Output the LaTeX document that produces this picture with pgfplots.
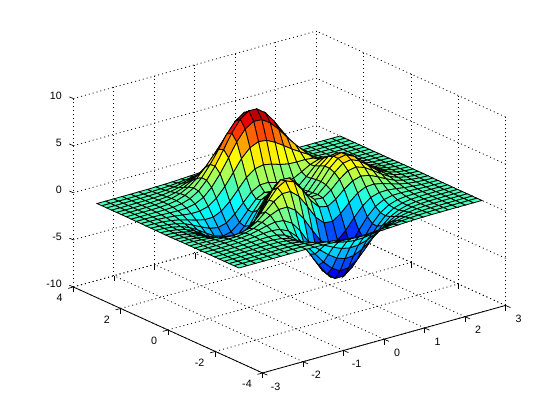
\documentclass[border=0pt]{standalone}
\usepackage{fontspec}
\setmainfont{Liberation Sans}
\usepackage{pgfplots}
\pgfplotsset{compat=1.18}
\pgfplotsset{colormap={matjet}{rgb255=(0,0,128) rgb255=(0,0,255) rgb255=(0,128,255) rgb255=(0,255,255) rgb255=(128,255,128) rgb255=(255,255,0) rgb255=(255,128,0) rgb255=(255,0,0) rgb255=(128,0,0)}}
\begin{document}
\begin{tikzpicture}
\path[use as bounding box] (0,0) rectangle (420pt,315pt);
\begin{axis}[
  at={(217.1pt,163.5pt)}, anchor=origin,
  x={(30.375pt,8.44pt)}, y={(-17.74pt,8.06pt)}, z={(0pt,7.065pt)},
  xmin=-3, xmax=3, ymin=-4, ymax=4, zmin=-10, zmax=10,
  xtick={-3,-2,-1,0,1,2,3}, ytick={-4,-2,0,2,4}, ztick={-10,-5,0,5,10},
  grid=major,
  grid style={black, line width=0.6pt, dash pattern=on 0.75pt off 2.25pt},
  axis line style={draw=none},
  tick style={black, line width=0.5pt},
  tick align=outside, major tick length=4pt, tick pos=lower,
  ztick style={draw=none},
  clip=false,
  /pgf/number format/assume math mode=true,
  tick label style={font=\fontsize{8}{9}\selectfont},
  xticklabel style={anchor=center, xshift=6.15pt, yshift=-8.4pt},
  yticklabel style={anchor=east, xshift=-0.75pt, yshift=-7.2pt},
  zticklabel style={anchor=east, xshift=-1.5pt, yshift=0.75pt},
  colormap name=matjet,
  point meta min=-6.43, point meta max=8.02,
]
\addplot3[surf, shader=flat corner, draw=black, line width=0.6pt, z buffer=sort, mesh/rows=30, point meta=z]
 table[row sep=\\, header=false, x index=0, y index=1, z index=2] {
-3 -3 0\\-2.79 -3 0\\-2.59 -3 0\\-2.38 -3 0\\-2.17 -3 0\\-1.97 -3 0\\-1.76 -3 0.01\\-1.55 -3 0\\-1.34 -3 0\\-1.14 -3 -0.01\\-0.93 -3 -0.04\\-0.72 -3 -0.08\\-0.52 -3 -0.13\\-0.31 -3 -0.19\\-0.10 -3 -0.23\\0.10 -3 -0.25\\0.31 -3 -0.25\\0.52 -3 -0.22\\0.72 -3 -0.18\\0.93 -3 -0.13\\1.14 -3 -0.08\\1.34 -3 -0.05\\1.55 -3 -0.03\\1.76 -3 -0.01\\1.97 -3 -0.01\\2.17 -3 0\\2.38 -3 0\\2.59 -3 0\\2.79 -3 0\\3 -3 0\\
-3 -2.79 0\\-2.79 -2.79 0\\-2.59 -2.79 0\\-2.38 -2.79 0\\-2.17 -2.79 0\\-1.97 -2.79 0.01\\-1.76 -2.79 0.01\\-1.55 -2.79 0.01\\-1.34 -2.79 -0.01\\-1.14 -2.79 -0.04\\-0.93 -2.79 -0.11\\-0.72 -2.79 -0.20\\-0.52 -2.79 -0.32\\-0.31 -2.79 -0.44\\-0.10 -2.79 -0.54\\0.10 -2.79 -0.59\\0.31 -2.79 -0.58\\0.52 -2.79 -0.51\\0.72 -2.79 -0.41\\0.93 -2.79 -0.29\\1.14 -2.79 -0.19\\1.34 -2.79 -0.11\\1.55 -2.79 -0.06\\1.76 -2.79 -0.03\\1.97 -2.79 -0.01\\2.17 -2.79 0\\2.38 -2.79 0\\2.59 -2.79 0\\2.79 -2.79 0\\3 -2.79 0\\
-3 -2.59 0\\-2.79 -2.59 0\\-2.59 -2.59 0\\-2.38 -2.59 0\\-2.17 -2.59 0.01\\-1.97 -2.59 0.01\\-1.76 -2.59 0.01\\-1.55 -2.59 0.01\\-1.34 -2.59 -0.02\\-1.14 -2.59 -0.10\\-0.93 -2.59 -0.23\\-0.72 -2.59 -0.44\\-0.52 -2.59 -0.69\\-0.31 -2.59 -0.94\\-0.10 -2.59 -1.14\\0.10 -2.59 -1.24\\0.31 -2.59 -1.21\\0.52 -2.59 -1.07\\0.72 -2.59 -0.85\\0.93 -2.59 -0.61\\1.14 -2.59 -0.39\\1.34 -2.59 -0.23\\1.55 -2.59 -0.12\\1.76 -2.59 -0.06\\1.97 -2.59 -0.02\\2.17 -2.59 -0.01\\2.38 -2.59 0\\2.59 -2.59 0\\2.79 -2.59 0\\3 -2.59 0\\
-3 -2.38 0\\-2.79 -2.38 0\\-2.59 -2.38 0\\-2.38 -2.38 0.01\\-2.17 -2.38 0.01\\-1.97 -2.38 0.02\\-1.76 -2.38 0.03\\-1.55 -2.38 0.01\\-1.34 -2.38 -0.05\\-1.14 -2.38 -0.18\\-0.93 -2.38 -0.42\\-0.72 -2.38 -0.79\\-0.52 -2.38 -1.25\\-0.31 -2.38 -1.71\\-0.10 -2.38 -2.09\\0.10 -2.38 -2.27\\0.31 -2.38 -2.22\\0.52 -2.38 -1.95\\0.72 -2.38 -1.55\\0.93 -2.38 -1.11\\1.14 -2.38 -0.71\\1.34 -2.38 -0.41\\1.55 -2.38 -0.22\\1.76 -2.38 -0.10\\1.97 -2.38 -0.04\\2.17 -2.38 -0.02\\2.38 -2.38 0\\2.59 -2.38 0\\2.79 -2.38 0\\3 -2.38 0\\
-3 -2.17 0\\-2.79 -2.17 0\\-2.59 -2.17 0\\-2.38 -2.17 0.01\\-2.17 -2.17 0.02\\-1.97 -2.17 0.04\\-1.76 -2.17 0.04\\-1.55 -2.17 0.03\\-1.34 -2.17 -0.06\\-1.14 -2.17 -0.26\\-0.93 -2.17 -0.65\\-0.72 -2.17 -1.23\\-0.52 -2.17 -1.97\\-0.31 -2.17 -2.73\\-0.10 -2.17 -3.35\\0.10 -2.17 -3.66\\0.31 -2.17 -3.59\\0.52 -2.17 -3.16\\0.72 -2.17 -2.50\\0.93 -2.17 -1.79\\1.14 -2.17 -1.15\\1.34 -2.17 -0.66\\1.55 -2.17 -0.34\\1.76 -2.17 -0.16\\1.97 -2.17 -0.06\\2.17 -2.17 -0.02\\2.38 -2.17 -0.01\\2.59 -2.17 0\\2.79 -2.17 0\\3 -2.17 0\\
-3 -1.97 0\\-2.79 -1.97 0\\-2.59 -1.97 0.01\\-2.38 -1.97 0.02\\-2.17 -1.97 0.03\\-1.97 -1.97 0.05\\-1.76 -1.97 0.08\\-1.55 -1.97 0.07\\-1.34 -1.97 -0.03\\-1.14 -1.97 -0.29\\-0.93 -1.97 -0.80\\-0.72 -1.97 -1.60\\-0.52 -1.97 -2.64\\-0.31 -1.97 -3.75\\-0.10 -1.97 -4.67\\0.10 -1.97 -5.16\\0.31 -1.97 -5.09\\0.52 -1.97 -4.50\\0.72 -1.97 -3.56\\0.93 -1.97 -2.53\\1.14 -1.97 -1.61\\1.34 -1.97 -0.91\\1.55 -1.97 -0.46\\1.76 -1.97 -0.20\\1.97 -1.97 -0.07\\2.17 -1.97 -0.02\\2.38 -1.97 0\\2.59 -1.97 0\\2.79 -1.97 0\\3 -1.97 0\\
-3 -1.76 0\\-2.79 -1.76 0\\-2.59 -1.76 0.01\\-2.38 -1.76 0.02\\-2.17 -1.76 0.04\\-1.97 -1.76 0.08\\-1.76 -1.76 0.12\\-1.55 -1.76 0.15\\-1.34 -1.76 0.09\\-1.14 -1.76 -0.15\\-0.93 -1.76 -0.70\\-0.72 -1.76 -1.63\\-0.52 -1.76 -2.89\\-0.31 -1.76 -4.30\\-0.10 -1.76 -5.52\\0.10 -1.76 -6.22\\0.31 -1.76 -6.22\\0.52 -1.76 -5.53\\0.72 -1.76 -4.38\\0.93 -1.76 -3.09\\1.14 -1.76 -1.93\\1.34 -1.76 -1.06\\1.55 -1.76 -0.50\\1.76 -1.76 -0.20\\1.97 -1.76 -0.06\\2.17 -1.76 -0.01\\2.38 -1.76 0.01\\2.59 -1.76 0.01\\2.79 -1.76 0\\3 -1.76 0\\
-3 -1.55 0\\-2.79 -1.55 0\\-2.59 -1.55 0\\-2.38 -1.55 0.01\\-2.17 -1.55 0.04\\-1.97 -1.55 0.09\\-1.76 -1.55 0.17\\-1.55 -1.55 0.27\\-1.34 -1.55 0.32\\-1.14 -1.55 0.22\\-0.93 -1.55 -0.20\\-0.72 -1.55 -1.05\\-0.52 -1.55 -2.35\\-0.31 -1.55 -3.90\\-0.10 -1.55 -5.34\\0.10 -1.55 -6.28\\0.31 -1.55 -6.43\\0.52 -1.55 -5.78\\0.72 -1.55 -4.57\\0.93 -1.55 -3.17\\1.14 -1.55 -1.90\\1.34 -1.55 -0.97\\1.55 -1.55 -0.39\\1.76 -1.55 -0.10\\1.97 -1.55 0.01\\2.17 -1.55 0.03\\2.38 -1.55 0.03\\2.59 -1.55 0.02\\2.79 -1.55 0.01\\3 -1.55 0\\
-3 -1.34 0\\-2.79 -1.34 0\\-2.59 -1.34 -0.01\\-2.38 -1.34 0\\-2.17 -1.34 0.02\\-1.97 -1.34 0.07\\-1.76 -1.34 0.18\\-1.55 -1.34 0.37\\-1.34 -1.34 0.59\\-1.14 -1.34 0.75\\-0.93 -1.34 0.66\\-0.72 -1.34 0.14\\-0.52 -1.34 -0.91\\-0.31 -1.34 -2.38\\-0.10 -1.34 -3.92\\0.10 -1.34 -5.06\\0.31 -1.34 -5.45\\0.52 -1.34 -5.00\\0.72 -1.34 -3.92\\0.93 -1.34 -2.60\\1.14 -1.34 -1.40\\1.34 -1.34 -0.55\\1.55 -1.34 -0.07\\1.76 -1.34 0.12\\1.97 -1.34 0.15\\2.17 -1.34 0.11\\2.38 -1.34 0.07\\2.59 -1.34 0.03\\2.79 -1.34 0.01\\3 -1.34 0.01\\
-3 -1.14 -0.01\\-2.79 -1.14 -0.01\\-2.59 -1.14 -0.02\\-2.38 -1.14 -0.04\\-2.17 -1.14 -0.05\\-1.97 -1.14 -0.02\\-1.76 -1.14 0.10\\-1.55 -1.14 0.34\\-1.34 -1.14 0.74\\-1.14 -1.14 1.23\\-0.93 -1.14 1.61\\-0.72 -1.14 1.62\\-0.52 -1.14 1.04\\-0.31 -1.14 -0.13\\-0.10 -1.14 -1.61\\0.10 -1.14 -2.91\\0.31 -1.14 -3.57\\0.52 -1.14 -3.41\\0.72 -1.14 -2.59\\0.93 -1.14 -1.48\\1.14 -1.14 -0.48\\1.34 -1.14 0.17\\1.55 -1.14 0.45\\1.76 -1.14 0.47\\1.97 -1.14 0.36\\2.17 -1.14 0.23\\2.38 -1.14 0.13\\2.59 -1.14 0.06\\2.79 -1.14 0.03\\3 -1.14 0.01\\
-3 -0.93 -0.01\\-2.79 -0.93 -0.03\\-2.59 -0.93 -0.06\\-2.38 -0.93 -0.10\\-2.17 -0.93 -0.16\\-1.97 -0.93 -0.20\\-1.76 -0.93 -0.15\\-1.55 -0.93 0.09\\-1.34 -0.93 0.59\\-1.14 -0.93 1.36\\-0.93 -0.93 2.21\\-0.72 -0.93 2.80\\-0.52 -0.93 2.79\\-0.31 -0.93 2.02\\-0.10 -0.93 0.71\\0.10 -0.93 -0.66\\0.31 -0.93 -1.53\\0.52 -0.93 -1.62\\0.72 -0.93 -1.03\\0.93 -0.93 -0.14\\1.14 -0.93 0.64\\1.34 -0.93 1.07\\1.55 -0.93 1.11\\1.76 -0.93 0.92\\1.97 -0.93 0.63\\2.17 -0.93 0.38\\2.38 -0.93 0.20\\2.59 -0.93 0.09\\2.79 -0.93 0.04\\3 -0.93 0.01\\
-3 -0.72 -0.02\\-2.79 -0.72 -0.04\\-2.59 -0.72 -0.10\\-2.38 -0.72 -0.19\\-2.17 -0.72 -0.33\\-1.97 -0.72 -0.48\\-1.76 -0.72 -0.57\\-1.55 -0.72 -0.45\\-1.34 -0.72 0.04\\-1.14 -0.72 0.94\\-0.93 -0.72 2.12\\-0.72 -0.72 3.19\\-0.52 -0.72 3.68\\-0.31 -0.72 3.32\\-0.10 -0.72 2.21\\0.10 -0.72 0.87\\0.31 -0.72 -0.08\\0.52 -0.72 -0.27\\0.72 -0.72 0.24\\0.93 -0.72 1.05\\1.14 -0.72 1.71\\1.34 -0.72 1.96\\1.55 -0.72 1.80\\1.76 -0.72 1.39\\1.97 -0.72 0.92\\2.17 -0.72 0.54\\2.38 -0.72 0.28\\2.59 -0.72 0.13\\2.79 -0.72 0.05\\3 -0.72 0.02\\
-3 -0.52 -0.02\\-2.79 -0.52 -0.06\\-2.59 -0.52 -0.14\\-2.38 -0.52 -0.29\\-2.17 -0.52 -0.52\\-1.97 -0.52 -0.82\\-1.76 -0.52 -1.10\\-1.55 -0.52 -1.18\\-1.34 -0.52 -0.85\\-1.14 -0.52 0.03\\-0.93 -0.52 1.35\\-0.72 -0.52 2.71\\-0.52 -0.52 3.56\\-0.31 -0.52 3.51\\-0.10 -0.52 2.62\\0.10 -0.52 1.38\\0.31 -0.52 0.50\\0.52 -0.52 0.39\\0.72 -0.52 0.99\\0.93 -0.52 1.88\\1.14 -0.52 2.54\\1.34 -0.52 2.71\\1.55 -0.52 2.40\\1.76 -0.52 1.82\\1.97 -0.52 1.20\\2.17 -0.52 0.70\\2.38 -0.52 0.36\\2.59 -0.52 0.17\\2.79 -0.52 0.07\\3 -0.52 0.03\\
-3 -0.31 -0.03\\-2.79 -0.31 -0.08\\-2.59 -0.31 -0.19\\-2.38 -0.31 -0.38\\-2.17 -0.31 -0.70\\-1.97 -0.31 -1.15\\-1.76 -0.31 -1.62\\-1.55 -0.31 -1.93\\-1.34 -0.31 -1.81\\-1.14 -0.31 -1.07\\-0.93 -0.31 0.24\\-0.72 -0.31 1.72\\-0.52 -0.31 2.78\\-0.31 -0.31 2.96\\-0.10 -0.31 2.26\\0.10 -0.31 1.19\\0.31 -0.31 0.46\\0.52 -0.31 0.52\\0.72 -0.31 1.32\\0.93 -0.31 2.36\\1.14 -0.31 3.10\\1.34 -0.31 3.25\\1.55 -0.31 2.85\\1.76 -0.31 2.14\\1.97 -0.31 1.41\\2.17 -0.31 0.82\\2.38 -0.31 0.42\\2.59 -0.31 0.20\\2.79 -0.31 0.08\\3 -0.31 0.03\\
-3 -0.10 -0.04\\-2.79 -0.10 -0.09\\-2.59 -0.10 -0.21\\-2.38 -0.10 -0.44\\-2.17 -0.10 -0.83\\-1.97 -0.10 -1.38\\-1.76 -0.10 -2.01\\-1.55 -0.10 -2.51\\-1.34 -0.10 -2.59\\-1.14 -0.10 -2.02\\-0.93 -0.10 -0.81\\-0.72 -0.10 0.68\\-0.52 -0.10 1.84\\-0.31 -0.10 2.18\\-0.10 -0.10 1.66\\0.10 -0.10 0.78\\0.31 -0.10 0.23\\0.52 -0.10 0.47\\0.72 -0.10 1.42\\0.93 -0.10 2.58\\1.14 -0.10 3.38\\1.34 -0.10 3.53\\1.55 -0.10 3.09\\1.76 -0.10 2.32\\1.97 -0.10 1.52\\2.17 -0.10 0.88\\2.38 -0.10 0.46\\2.59 -0.10 0.21\\2.79 -0.10 0.09\\3 -0.10 0.03\\
-3 0.10 -0.04\\-2.79 0.10 -0.09\\-2.59 0.10 -0.22\\-2.38 0.10 -0.46\\-2.17 0.10 -0.87\\-1.97 0.10 -1.46\\-1.76 0.10 -2.16\\-1.55 0.10 -2.77\\-1.34 0.10 -3.00\\-1.14 0.10 -2.59\\-0.93 0.10 -1.52\\-0.72 0.10 -0.12\\-0.52 0.10 1.04\\-0.31 0.10 1.47\\-0.10 0.10 1.11\\0.10 0.10 0.42\\0.31 0.10 0.04\\0.52 0.10 0.39\\0.72 0.10 1.40\\0.93 0.10 2.58\\1.14 0.10 3.38\\1.34 0.10 3.52\\1.55 0.10 3.07\\1.76 0.10 2.31\\1.97 0.10 1.51\\2.17 0.10 0.88\\2.38 0.10 0.45\\2.59 0.10 0.21\\2.79 0.10 0.09\\3 0.10 0.03\\
-3 0.31 -0.03\\-2.79 0.31 -0.09\\-2.59 0.31 -0.21\\-2.38 0.31 -0.43\\-2.17 0.31 -0.82\\-1.97 0.31 -1.39\\-1.76 0.31 -2.08\\-1.55 0.31 -2.71\\-1.34 0.31 -3.00\\-1.14 0.31 -2.71\\-0.93 0.31 -1.82\\-0.72 0.31 -0.58\\-0.52 0.31 0.49\\-0.31 0.31 0.94\\-0.10 0.31 0.72\\0.10 0.31 0.19\\0.31 0.31 -0.06\\0.52 0.31 0.33\\0.72 0.31 1.29\\0.93 0.31 2.37\\1.14 0.31 3.11\\1.34 0.31 3.23\\1.55 0.31 2.82\\1.76 0.31 2.11\\1.97 0.31 1.38\\2.17 0.31 0.80\\2.38 0.31 0.41\\2.59 0.31 0.19\\2.79 0.31 0.08\\3 0.31 0.03\\
-3 0.52 -0.03\\-2.79 0.52 -0.07\\-2.59 0.52 -0.18\\-2.38 0.52 -0.37\\-2.17 0.52 -0.71\\-1.97 0.52 -1.20\\-1.76 0.52 -1.79\\-1.55 0.52 -2.35\\-1.34 0.52 -2.62\\-1.14 0.52 -2.41\\-0.93 0.52 -1.66\\-0.72 0.52 -0.60\\-0.52 0.52 0.34\\-0.31 0.52 0.79\\-0.10 0.52 0.68\\0.10 0.52 0.30\\0.31 0.52 0.12\\0.52 0.52 0.45\\0.72 0.52 1.23\\0.93 0.52 2.11\\1.14 0.52 2.69\\1.34 0.52 2.76\\1.55 0.52 2.39\\1.76 0.52 1.79\\1.97 0.52 1.17\\2.17 0.52 0.68\\2.38 0.52 0.35\\2.59 0.52 0.16\\2.79 0.52 0.07\\3 0.52 0.03\\
-3 0.72 -0.02\\-2.79 0.72 -0.06\\-2.59 0.72 -0.14\\-2.38 0.72 -0.29\\-2.17 0.72 -0.54\\-1.97 0.72 -0.92\\-1.76 0.72 -1.37\\-1.55 0.72 -1.77\\-1.34 0.72 -1.94\\-1.14 0.72 -1.70\\-0.93 0.72 -1.00\\-0.72 0.72 -0.04\\-0.52 0.72 0.86\\-0.31 0.72 1.36\\-0.10 0.72 1.38\\0.10 0.72 1.12\\0.31 0.72 0.93\\0.52 0.72 1.07\\0.72 0.72 1.52\\0.93 0.72 2.04\\1.14 0.72 2.34\\1.34 0.72 2.29\\1.55 0.72 1.94\\1.76 0.72 1.42\\1.97 0.72 0.92\\2.17 0.72 0.53\\2.38 0.72 0.27\\2.59 0.72 0.13\\2.79 0.72 0.05\\3 0.72 0.02\\
-3 0.93 -0.02\\-2.79 0.93 -0.04\\-2.59 0.93 -0.09\\-2.38 0.93 -0.20\\-2.17 0.93 -0.37\\-1.97 0.93 -0.62\\-1.76 0.93 -0.89\\-1.55 0.93 -1.09\\-1.34 0.93 -1.07\\-1.14 0.93 -0.68\\-0.93 0.93 0.11\\-0.72 0.93 1.15\\-0.52 0.93 2.15\\-0.31 0.93 2.82\\-0.10 0.93 3.01\\0.10 0.93 2.84\\0.31 0.93 2.55\\0.52 0.93 2.36\\0.72 0.93 2.32\\0.93 0.93 2.33\\1.14 0.93 2.24\\1.34 0.93 1.97\\1.55 0.93 1.56\\1.76 0.93 1.11\\1.97 0.93 0.70\\2.17 0.93 0.40\\2.38 0.93 0.20\\2.59 0.93 0.09\\2.79 0.93 0.04\\3 0.93 0.01\\
-3 1.14 -0.01\\-2.79 1.14 -0.03\\-2.59 1.14 -0.06\\-2.38 1.14 -0.12\\-2.17 1.14 -0.21\\-1.97 1.14 -0.33\\-1.76 1.14 -0.44\\-1.55 1.14 -0.42\\-1.34 1.14 -0.17\\-1.14 1.14 0.45\\-0.93 1.14 1.44\\-0.72 1.14 2.68\\-0.52 1.14 3.91\\-0.31 1.14 4.82\\-0.10 1.14 5.22\\0.10 1.14 5.12\\0.31 1.14 4.66\\0.52 1.14 4.07\\0.72 1.14 3.47\\0.93 1.14 2.91\\1.14 1.14 2.37\\1.34 1.14 1.83\\1.55 1.14 1.32\\1.76 1.14 0.87\\1.97 1.14 0.52\\2.17 1.14 0.29\\2.38 1.14 0.14\\2.59 1.14 0.06\\2.79 1.14 0.03\\3 1.14 0.01\\
-3 1.34 -0.01\\-2.79 1.34 -0.01\\-2.59 1.34 -0.03\\-2.38 1.34 -0.06\\-2.17 1.34 -0.09\\-1.97 1.34 -0.12\\-1.76 1.34 -0.08\\-1.55 1.34 0.11\\-1.34 1.34 0.56\\-1.14 1.34 1.38\\-0.93 1.34 2.57\\-0.72 1.34 4.01\\-0.52 1.34 5.45\\-0.31 1.34 6.58\\-0.10 1.34 7.15\\0.10 1.34 7.09\\0.31 1.34 6.49\\0.52 1.34 5.56\\0.72 1.34 4.49\\0.93 1.34 3.46\\1.14 1.34 2.53\\1.34 1.34 1.76\\1.55 1.34 1.15\\1.76 1.34 0.71\\1.97 1.34 0.40\\2.17 1.34 0.21\\2.38 1.34 0.10\\2.59 1.34 0.04\\2.79 1.34 0.02\\3 1.34 0.01\\
-3 1.55 0\\-2.79 1.55 -0.01\\-2.59 1.55 -0.01\\-2.38 1.55 -0.02\\-2.17 1.55 -0.01\\-1.97 1.55 0.02\\-1.76 1.55 0.14\\-1.55 1.55 0.43\\-1.34 1.55 0.99\\-1.14 1.55 1.89\\-0.93 1.55 3.15\\-0.72 1.55 4.65\\-0.52 1.55 6.16\\-0.31 1.55 7.37\\-0.10 1.55 8.02\\0.10 1.55 7.99\\0.31 1.55 7.32\\0.52 1.55 6.22\\0.72 1.55 4.92\\0.93 1.55 3.64\\1.14 1.55 2.53\\1.34 1.55 1.65\\1.55 1.55 1.01\\1.76 1.55 0.58\\1.97 1.55 0.31\\2.17 1.55 0.15\\2.38 1.55 0.07\\2.59 1.55 0.03\\2.79 1.55 0.01\\3 1.55 0\\
-3 1.76 0\\-2.79 1.76 0\\-2.59 1.76 0\\-2.38 1.76 0\\-2.17 1.76 0.02\\-1.97 1.76 0.09\\-1.76 1.76 0.23\\-1.55 1.76 0.54\\-1.34 1.76 1.08\\-1.14 1.76 1.92\\-0.93 1.76 3.08\\-0.72 1.76 4.44\\-0.52 1.76 5.82\\-0.31 1.76 6.94\\-0.10 1.76 7.56\\0.10 1.76 7.54\\0.31 1.76 6.92\\0.52 1.76 5.85\\0.72 1.76 4.58\\0.93 1.76 3.33\\1.14 1.76 2.25\\1.34 1.76 1.41\\1.55 1.76 0.83\\1.76 1.76 0.45\\1.97 1.76 0.23\\2.17 1.76 0.11\\2.38 1.76 0.05\\2.59 1.76 0.02\\2.79 1.76 0.01\\3 1.76 0\\
-3 1.97 0\\-2.79 1.97 0\\-2.59 1.97 0\\-2.38 1.97 0.01\\-2.17 1.97 0.03\\-1.97 1.97 0.10\\-1.76 1.97 0.23\\-1.55 1.97 0.49\\-1.34 1.97 0.93\\-1.14 1.97 1.61\\-0.93 1.97 2.53\\-0.72 1.97 3.61\\-0.52 1.97 4.70\\-0.31 1.97 5.60\\-0.10 1.97 6.10\\0.10 1.97 6.09\\0.31 1.97 5.59\\0.52 1.97 4.72\\0.72 1.97 3.67\\0.93 1.97 2.64\\1.14 1.97 1.76\\1.34 1.97 1.08\\1.55 1.97 0.62\\1.76 1.97 0.33\\1.97 1.97 0.16\\2.17 1.97 0.07\\2.38 1.97 0.03\\2.59 1.97 0.01\\2.79 1.97 0\\3 1.97 0\\
-3 2.17 0\\-2.79 2.17 0\\-2.59 2.17 0\\-2.38 2.17 0.01\\-2.17 2.17 0.03\\-1.97 2.17 0.08\\-1.76 2.17 0.17\\-1.55 2.17 0.36\\-1.34 2.17 0.67\\-1.14 2.17 1.15\\-0.93 2.17 1.79\\-0.72 2.17 2.54\\-0.52 2.17 3.29\\-0.31 2.17 3.91\\-0.10 2.17 4.26\\0.10 2.17 4.26\\0.31 2.17 3.91\\0.52 2.17 3.30\\0.72 2.17 2.56\\0.93 2.17 1.83\\1.14 2.17 1.21\\1.34 2.17 0.74\\1.55 2.17 0.42\\1.76 2.17 0.22\\1.97 2.17 0.10\\2.17 2.17 0.05\\2.38 2.17 0.02\\2.59 2.17 0.01\\2.79 2.17 0\\3 2.17 0\\
-3 2.38 0\\-2.79 2.38 0\\-2.59 2.38 0\\-2.38 2.38 0.01\\-2.17 2.38 0.02\\-1.97 2.38 0.05\\-1.76 2.38 0.11\\-1.55 2.38 0.23\\-1.34 2.38 0.42\\-1.14 2.38 0.71\\-0.93 2.38 1.11\\-0.72 2.38 1.57\\-0.52 2.38 2.03\\-0.31 2.38 2.41\\-0.10 2.38 2.63\\0.10 2.38 2.62\\0.31 2.38 2.41\\0.52 2.38 2.03\\0.72 2.38 1.58\\0.93 2.38 1.12\\1.14 2.38 0.74\\1.34 2.38 0.45\\1.55 2.38 0.25\\1.76 2.38 0.13\\1.97 2.38 0.06\\2.17 2.38 0.03\\2.38 2.38 0.01\\2.59 2.38 0\\2.79 2.38 0\\3 2.38 0\\
-3 2.59 0\\-2.79 2.59 0\\-2.59 2.59 0\\-2.38 2.59 0.01\\-2.17 2.59 0.01\\-1.97 2.59 0.03\\-1.76 2.59 0.06\\-1.55 2.59 0.13\\-1.34 2.59 0.23\\-1.14 2.59 0.39\\-0.93 2.59 0.61\\-0.72 2.59 0.86\\-0.52 2.59 1.11\\-0.31 2.59 1.32\\-0.10 2.59 1.44\\0.10 2.59 1.44\\0.31 2.59 1.32\\0.52 2.59 1.11\\0.72 2.59 0.86\\0.93 2.59 0.61\\1.14 2.59 0.40\\1.34 2.59 0.24\\1.55 2.59 0.13\\1.76 2.59 0.07\\1.97 2.59 0.03\\2.17 2.59 0.01\\2.38 2.59 0.01\\2.59 2.59 0\\2.79 2.59 0\\3 2.59 0\\
-3 2.79 0\\-2.79 2.79 0\\-2.59 2.79 0\\-2.38 2.79 0\\-2.17 2.79 0.01\\-1.97 2.79 0.01\\-1.76 2.79 0.03\\-1.55 2.79 0.06\\-1.34 2.79 0.11\\-1.14 2.79 0.19\\-0.93 2.79 0.29\\-0.72 2.79 0.41\\-0.52 2.79 0.53\\-0.31 2.79 0.63\\-0.10 2.79 0.69\\0.10 2.79 0.69\\0.31 2.79 0.63\\0.52 2.79 0.53\\0.72 2.79 0.41\\0.93 2.79 0.29\\1.14 2.79 0.19\\1.34 2.79 0.12\\1.55 2.79 0.06\\1.76 2.79 0.03\\1.97 2.79 0.02\\2.17 2.79 0.01\\2.38 2.79 0\\2.59 2.79 0\\2.79 2.79 0\\3 2.79 0\\
-3 3 0\\-2.79 3 0\\-2.59 3 0\\-2.38 3 0\\-2.17 3 0\\-1.97 3 0.01\\-1.76 3 0.01\\-1.55 3 0.03\\-1.34 3 0.05\\-1.14 3 0.08\\-0.93 3 0.13\\-0.72 3 0.18\\-0.52 3 0.23\\-0.31 3 0.27\\-0.10 3 0.30\\0.10 3 0.30\\0.31 3 0.27\\0.52 3 0.23\\0.72 3 0.18\\0.93 3 0.13\\1.14 3 0.08\\1.34 3 0.05\\1.55 3 0.03\\1.76 3 0.01\\1.97 3 0.01\\2.17 3 0\\2.38 3 0\\2.59 3 0\\2.79 3 0\\3 3 0\\
};
\draw[black, line width=0.6pt] (axis cs:-3,4,-10) -- (axis cs:-3,-4,-10) -- (axis cs:3,-4,-10);
\draw[black, line width=0.5pt] (axis cs:-3,4,-10) -- ++(-3pt,1.3pt);
\draw[black, line width=0.5pt] (axis cs:-3,4,-5) -- ++(-3pt,1.3pt);
\draw[black, line width=0.5pt] (axis cs:-3,4,0) -- ++(-3pt,1.3pt);
\draw[black, line width=0.5pt] (axis cs:-3,4,5) -- ++(-3pt,1.3pt);
\draw[black, line width=0.5pt] (axis cs:-3,4,10) -- ++(-3pt,1.3pt);
\end{axis}
\end{tikzpicture}
\end{document}
